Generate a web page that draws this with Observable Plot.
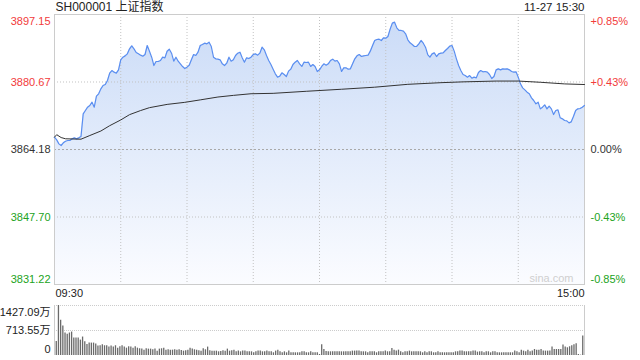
<!DOCTYPE html>
<html><head><meta charset="utf-8">
<script src="https://cdn.jsdelivr.net/npm/d3@7"></script>
<script src="https://cdn.jsdelivr.net/npm/@observablehq/plot@0.6"></script>
<style>
html,body{margin:0;padding:0;background:#fff;}
#chart{position:relative;width:640px;height:360px;overflow:hidden;}
#chart svg{position:absolute;left:0;}
</style></head><body><div id="chart"></div>
<script>
// ---------- data ----------
const title = "SH000001 上证指数";
const stamp = "11-27 15:30";
const prevClose = 3864.18;
const leftTicks = [3897.15, 3880.67, 3864.18, 3847.70, 3831.22];
const rightTicks = ["+0.85%", "+0.43%", "0.00%", "-0.43%", "-0.85%"];
const timeLabels = ["09:30", "15:00"];
const gridMinutes = [30, 60, 90, 120, 150, 180, 210];
const volTicks = [1427.09, 713.55, 0];
const volTickLabels = ["1427.09万", "713.55万", "0"];
const watermark = "sina.com";

// price per minute (index 0 = 09:30, 240 = 15:00)
const prices = [
3867.19,3866.54,3865.56,3865.16,3865.81,3866.21,3866.38,3866.38,3866.79,3867.03,
3866.79,3867.03,3867.36,3872.89,3873.70,3874.52,3874.93,3875.74,3874.52,3877.20,
3877.77,3878.99,3879.81,3880.05,3881.03,3882.82,3883.47,3883.07,3882.82,3883.63,
3886.08,3886.73,3887.05,3887.54,3888.76,3889.50,3888.76,3887.87,3887.54,3887.22,
3886.97,3887.38,3889.58,3888.19,3886.73,3884.69,3885.67,3885.67,3885.91,3886.73,
3886.57,3888.19,3888.68,3887.70,3885.75,3886.73,3885.75,3885.10,3884.45,3883.96,
3884.29,3884.77,3886.08,3887.38,3887.14,3887.95,3889.58,3889.82,3890.15,3889.98,
3890.39,3889.33,3886.73,3886.32,3886.24,3886.08,3885.10,3884.69,3885.26,3886.73,
3885.75,3886.08,3887.14,3887.70,3887.95,3886.57,3885.51,3886.57,3886.40,3886.73,
3887.38,3887.55,3887.22,3887.71,3889.17,3888.52,3887.14,3885.92,3884.94,3883.80,
3882.66,3881.85,3882.09,3882.91,3882.50,3882.01,3883.32,3883.80,3884.94,3885.51,
3885.92,3885.11,3884.46,3885.51,3885.43,3885.51,3884.46,3884.94,3884.46,3883.23,
3883.64,3884.46,3885.11,3884.78,3885.11,3885.92,3886.25,3885.76,3885.92,3885.11,
3883.23,3884.13,3884.13,3883.80,3883.88,3885.11,3886.33,3887.06,3887.38,3886.90,
3887.06,3887.14,3887.22,3888.20,3889.50,3890.80,3891.05,3891.13,3890.80,3891.45,
3891.37,3891.78,3893.57,3895.04,3895.28,3893.90,3893.25,3893.25,3893.08,3892.43,
3890.97,3890.23,3889.83,3889.34,3889.34,3889.99,3890.80,3890.15,3889.17,3887.38,
3886.73,3887.54,3887.79,3886.89,3887.54,3887.71,3887.79,3888.36,3888.85,3889.42,
3889.58,3888.20,3886.32,3884.70,3883.47,3882.50,3882.25,3881.85,3882.25,3881.60,
3881.85,3881.68,3882.99,3883.47,3883.15,3883.23,3883.07,3882.50,3881.52,3882.01,
3883.64,3883.88,3883.64,3883.88,3883.80,3883.88,3883.64,3883.23,3883.07,3883.15,
3881.85,3880.22,3879.24,3878.75,3878.18,3877.78,3876.80,3876.15,3875.33,3875.74,
3874.11,3874.52,3875.09,3874.11,3874.76,3874.11,3872.73,3873.71,3873.87,3871.92,
3871.67,3871.26,3871.18,3870.69,3870.94,3872.24,3873.71,3874.11,3874.19,3874.52,
3874.93
];

// average price line, read at these minutes
const avgMinutes = [0,1,3,5,12,16,21,25,30,34,39,43,51,59,66,74,81,89,99,114,130,145,160,175,185,200,210,220,231,240];
const avgValues = [3867.2,3867.8,3867.1,3866.8,3866.7,3867.6,3868.7,3870.0,3871.4,3872.7,3873.7,3874.4,3875.2,3875.7,3876.3,3877.0,3877.4,3877.8,3877.9,3878.4,3878.9,3879.4,3880.1,3880.5,3880.7,3880.9,3880.9,3880.6,3880.2,3880.05];

// volume per minute (万)
const volumes = [
402,1427.09,1006,843,642,603,642,670,498,498,
498,440,527,393,316,354,354,354,325,268,
278,306,278,278,240,268,240,278,210,249,
278,240,210,249,240,210,249,210,192,182,
153,192,182,182,163,182,124,182,192,210,
153,163,153,153,163,153,163,144,124,134,
153,210,182,163,153,134,124,192,163,240,
134,124,124,124,105,115,134,124,182,124,
134,153,105,125,105,125,125,105,105,105,
77,105,125,125,105,105,125,105,105,77,
125,153,105,77,105,77,125,77,77,77,
77,77,105,105,77,77,105,77,77,77,
29,306,172,115,105,105,105,105,105,105,
105,105,105,105,105,125,125,125,125,105,
105,105,77,105,105,105,77,105,105,105,
125,105,105,201,153,125,153,105,77,105,
105,125,105,105,105,105,105,77,105,77,
105,105,77,77,105,77,77,77,77,77,
77,77,105,105,125,125,105,105,105,105,
125,125,96,105,105,77,105,105,77,105,
105,77,77,77,77,77,77,77,77,125,
105,77,153,125,105,153,105,125,172,153,
153,172,125,125,125,125,240,172,172,172,
172,297,240,220,249,278,306,335,29,10,
555
];

// ---------- drawing ----------
const FONT = '"Liberation Sans", Arial, "Noto Sans CJK SC", sans-serif';
const RED = "#f23b3b", GREEN = "#22a322", DARK = "#333";
const yMin = leftTicks[leftTicks.length - 1], yMax = leftTicks[0];
const tickColor = v => v > prevClose + 1e-6 ? RED : v < prevClose - 1e-6 ? GREEN : DARK;

const priceData = prices.map((p, i) => ({i, p}));
const avgData = avgMinutes.map((m, k) => ({i: m, p: avgValues[k]}));
const volData = volumes.map((v, i) => ({i, v}));
const lastMinute = prices.length - 1;

function sideLabels(k) {
  const v = leftTicks[k];
  const dy = k === 0 ? 6.5 : k === leftTicks.length - 1 ? -5.5 : 0;
  return [
    Plot.text([v], {y: d => d, text: d => d.toFixed(2), frameAnchor: "left", dx: -4, dy,
      textAnchor: "end", lineAnchor: "middle", fill: tickColor(v)}),
    Plot.text([v], {y: d => d, text: () => rightTicks[k], frameAnchor: "right", dx: 6, dy,
      textAnchor: "start", lineAnchor: "middle", fill: tickColor(v)})
  ];
}

const main = Plot.plot({
  width: 640, height: 300,
  marginLeft: 54, marginRight: 56, marginTop: 14, marginBottom: 16,
  x: {domain: [0, lastMinute], axis: null},
  y: {domain: [yMin, yMax], axis: null},
  style: {fontFamily: FONT, fontSize: "11px", background: "transparent", color: "#222"},
  marks: [
    Plot.areaY(priceData, {x: "i", y1: yMin, y2: "p", fill: "url(#pxgrad)"}),
    Plot.ruleX(gridMinutes, {stroke: "#c2c2c2", strokeDasharray: "1,2"}),
    Plot.ruleY([leftTicks[1], leftTicks[3]], {stroke: "#c2c2c2", strokeDasharray: "1,2"}),
    Plot.ruleY([prevClose], {stroke: "#a8a8a8", strokeDasharray: "2,2"}),
    Plot.frame({stroke: "#cccccc"}),
    Plot.line(priceData, {x: "i", y: "p", stroke: "#5a8ef0", strokeWidth: 1.2}),
    Plot.line(avgData, {x: "i", y: "p", stroke: "#333", strokeWidth: 1}),
    ...leftTicks.flatMap((_, k) => sideLabels(k)),
    Plot.text([title], {frameAnchor: "top-left", dx: 1, dy: -7, textAnchor: "start", lineAnchor: "middle", fontSize: 12, fill: "#222"}),
    Plot.text([stamp], {frameAnchor: "top-right", dy: -7, textAnchor: "end", lineAnchor: "middle", fontSize: 11.5, fill: "#222"}),
    Plot.text([timeLabels[0]], {frameAnchor: "bottom-left", dx: 1, dy: 9, textAnchor: "start", lineAnchor: "middle", fill: "#222"}),
    Plot.text([timeLabels[1]], {frameAnchor: "bottom-right", dy: 9, textAnchor: "end", lineAnchor: "middle", fill: "#222"}),
    Plot.text([watermark], {frameAnchor: "bottom-right", dx: -11, dy: -6, textAnchor: "end", lineAnchor: "middle", fill: "#cfcfcf"})
  ]
});

// gradient fill for the price area
{
  const ys = main.scale("y");
  const defs = d3.select(main).insert("defs", ":first-child");
  const g = defs.append("linearGradient").attr("id", "pxgrad")
    .attr("gradientUnits", "userSpaceOnUse")
    .attr("x1", 0).attr("x2", 0)
    .attr("y1", ys.apply(yMax)).attr("y2", ys.apply(yMin));
  g.append("stop").attr("offset", "0%").attr("stop-color", "#cadbf7");
  g.append("stop").attr("offset", "100%").attr("stop-color", "#fbfcff");
}
main.style.top = "0px";

const xPad = 0.8;
const volX = [-xPad, lastMinute + xPad];
const vol = Plot.plot({
  width: 640, height: 60,
  marginLeft: 54, marginRight: 56, marginTop: 5, marginBottom: 5,
  x: {domain: volX, axis: null},
  y: {domain: [0, volTicks[0]], axis: null},
  style: {fontFamily: FONT, fontSize: "11px", background: "transparent", color: "#222"},
  marks: [
    Plot.ruleY([volTicks[0], volTicks[1]], {stroke: "#cccccc", strokeDasharray: "1,1"}),
    Plot.ruleX(volX, {stroke: "#cccccc"}),
    Plot.ruleX(volData, {x: "i", y1: 0, y2: "v", stroke: "#6a6a6a", strokeWidth: 1.3}),
    Plot.text([volTicks[0]], {y: d => d, text: () => volTickLabels[0], frameAnchor: "left", dx: -4, dy: 6.5, textAnchor: "end", lineAnchor: "middle", fill: "#222"}),
    Plot.text([volTicks[1]], {y: d => d, text: () => volTickLabels[1], frameAnchor: "left", dx: -4, dy: 0, textAnchor: "end", lineAnchor: "middle", fill: "#222"}),
    Plot.text([volTicks[2]], {y: d => d, text: () => volTickLabels[2], frameAnchor: "left", dx: -4, dy: -6, textAnchor: "end", lineAnchor: "middle", fill: "#222"})
  ]
});
vol.style.top = "300px";

const root = document.getElementById("chart");
root.appendChild(main);
root.appendChild(vol);
</script></body></html>
